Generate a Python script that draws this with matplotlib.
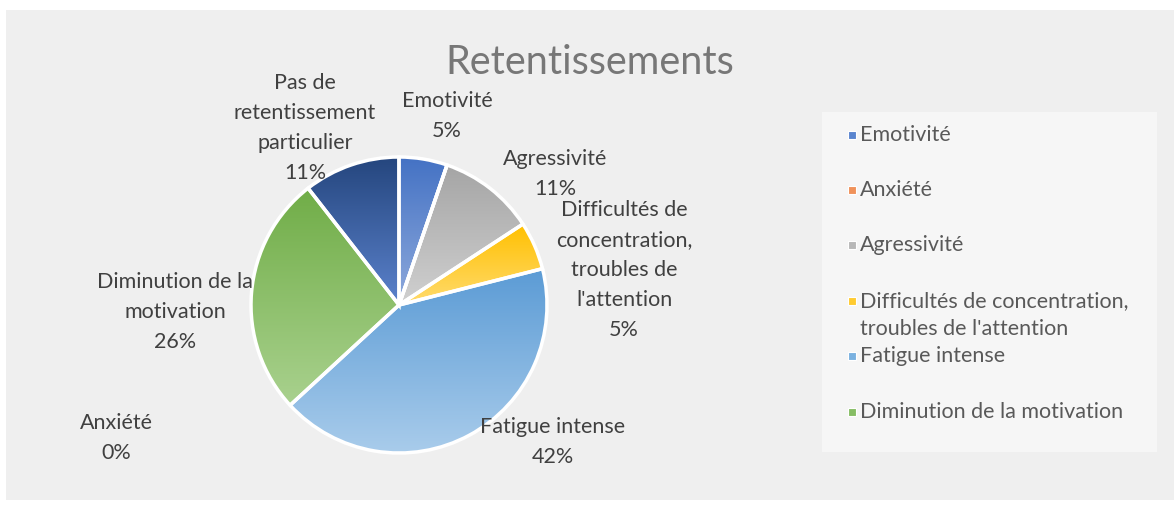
import matplotlib.pyplot as plt
import numpy as np
from matplotlib.patches import Rectangle
from matplotlib.colors import LinearSegmentedColormap

plt.rcParams['font.family'] = 'Lato'

# data
categories = ["Emotivité", "Anxiété", "Agressivité",
              "Difficultés de concentration, troubles de l'attention",
              "Fatigue intense", "Diminution de la motivation",
              "Pas de retentissement particulier"]
counts = [1, 0, 2, 1, 8, 5, 2]

pie_labels = ["Emotivité", "Anxiété", "Agressivité",
              "Difficultés de\nconcentration,\ntroubles de\nl'attention",
              "Fatigue intense", "Diminution de la\nmotivation",
              "Pas de\nretentissement\nparticulier"]
legend_labels = ["Emotivité", "Anxiété", "Agressivité",
                 "Difficultés de concentration,\ntroubles de l'attention",
                 "Fatigue intense", "Diminution de la motivation"]

top_colors = ['#4472C4', '#ED7D31', '#A5A5A5', '#FFC000', '#5B9BD5', '#70AD47', '#25467E']
bottom_colors = ['#8FAADC', '#F4B183', '#D0D0D0', '#FFDB6E', '#A9CCEB', '#A9D18E', '#5B82CC']
legend_colors = ['#5A85CF', '#F0925A', '#B8B8B8', '#FFCB30', '#7AB1E0', '#86BD64', '#3D62A8']

# pixel positions of the labels (image coords)
label_pos = [(447, 116), (116, 438), (555, 174), (624, 270),
             (553, 442), (175, 312), (305, 128)]

W, H = 1174, 509
fig = plt.figure(figsize=(W / 100, H / 100), dpi=100)
ax = fig.add_axes([0, 0, 1, 1])

ax.add_patch(Rectangle((6, H - 500), W - 6, 490, facecolor='#EFEFEF', edgecolor='none', zorder=0))

cx, cy, r = 399, H - 305, 148
wedges, _ = ax.pie(counts, center=(cx, cy), radius=r, startangle=90, counterclock=False,
                   wedgeprops=dict(edgecolor='white', linewidth=2.5), frame=True)

grad = np.linspace(0, 1, 256).reshape(-1, 1)
for i, w in enumerate(wedges):
    w.set_facecolor('none')
    w.set_zorder(3)
    if counts[i] == 0:
        continue
    ext = w.get_path().get_extents()
    cmap = LinearSegmentedColormap.from_list('g%d' % i, [bottom_colors[i], top_colors[i]])
    im = ax.imshow(grad, cmap=cmap, origin='lower', aspect='auto', interpolation='bicubic',
                   extent=(ext.x0, ext.x1, ext.y0, ext.y1), zorder=2)
    im.set_clip_path(w)

total = sum(counts)
for i, (x, y) in enumerate(label_pos):
    pct = round(100 * counts[i] / total)
    ax.text(x, H - y, f"{pie_labels[i]}\n{pct}%", ha='center', va='center',
            fontsize=15.5, color='#404040', linespacing=1.62, zorder=5)

ax.text(590, H - 62, "Retentissements", ha='center', va='center', fontsize=28.5, color='#777777')

# legend box
ax.add_patch(Rectangle((822, H - 452), 335, 340, facecolor='#F6F6F6', edgecolor='none', zorder=1))
leg_y = [135, 190, 245, 301, 356, 412]
for i, lab in enumerate(legend_labels):
    y = leg_y[i]
    ax.add_patch(Rectangle((848, H - y - 4), 8, 8, facecolor=legend_colors[i],
                           edgecolor='white', linewidth=0.8, zorder=4))
    for k, line in enumerate(lab.split('\n')):
        ax.text(860, H - y - k * 28, line, ha='left', va='center', fontsize=15.5, color='#595959', zorder=5)

ax.set_xlim(0, W)
ax.set_ylim(0, H)
ax.axis('off')
fig.savefig('out.png', dpi=100)
